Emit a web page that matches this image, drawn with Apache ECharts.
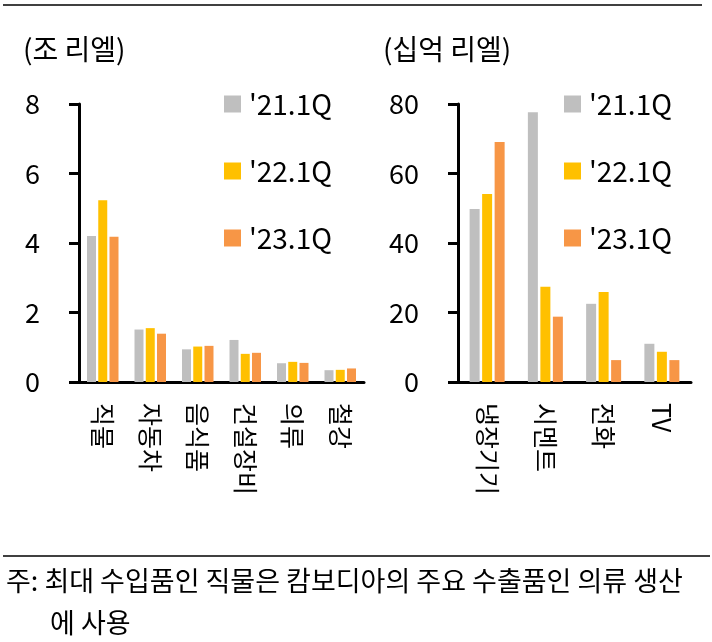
<!DOCTYPE html>
<html>
<head>
<meta charset="utf-8">
<script src="https://cdn.jsdelivr.net/npm/echarts@6/dist/echarts.min.js"></script>
<style>
  html, body { margin: 0; padding: 0; background: #fff; }
  #chart { width: 712px; height: 642px; }
</style>
</head>
<body>
<div id="chart"></div>
<script>
const seriesNames = ["'21.1Q", "'22.1Q", "'23.1Q"];
const colors = ['#BFBFBF', '#FFC000', '#F79646'];

// left panel: 조 리엘
const leftCategories = ['직물', '자동차', '음식품', '건설장비', '의류', '철강'];
const leftQ21 = [4.2, 1.51, 0.94, 1.21, 0.54, 0.34];
const leftQ22 = [5.23, 1.55, 1.02, 0.81, 0.58, 0.35];
const leftQ23 = [4.18, 1.39, 1.04, 0.84, 0.55, 0.39];
const leftTicks = [0, 2, 4, 6, 8];

// right panel: 십억 리엘
const rightCategories = ['냉장기기', '시멘트', '전화', 'TV'];
const rightQ21 = [49.8, 77.6, 22.5, 11.0];
const rightQ22 = [54.1, 27.4, 25.9, 8.7];
const rightQ23 = [69.1, 18.8, 6.3, 6.3];
const rightTicks = [0, 20, 40, 60, 80];

const FONT = '"Noto Sans CJK KR", "Noto Sans", sans-serif';

const chart = echarts.init(document.getElementById('chart'), null, { renderer: 'canvas' });

function xAxis (gridIndex, data) {
  return {
    type: 'category',
    gridIndex: gridIndex,
    data: data,
    axisLine: { lineStyle: { color: '#000', width: 3 } },
    axisTick: { length: 10, lineStyle: { color: '#000', width: 3 } },
    axisLabel: {
      interval: 0,
      rotate: -90,
      margin: 21,
      color: '#000',
      fontSize: 25,
      fontFamily: FONT
    }
  }
}

function yAxis (gridIndex, ticks) {
  return {
    type: 'value',
    gridIndex: gridIndex,
    min: ticks[0],
    max: ticks[ticks.length - 1],
    interval: ticks[1] - ticks[0],
    splitLine: { show: false },
    axisLine: { show: true, lineStyle: { color: '#000', width: 3 } },
    axisTick: { show: true, length: 10, lineStyle: { color: '#000', width: 3 } },
    axisLabel: {
      margin: 39,
      color: '#000',
      fontSize: 27,
      fontFamily: FONT
    }
  }
}

function legend (left) {
  return {
    data: seriesNames,
    orient: 'vertical',
    left: left,
    top: 89,
    padding: 0,
    itemWidth: 17,
    itemHeight: 17,
    itemGap: 37,
    icon: 'rect',
    selectedMode: false,
    textStyle: {
      color: '#000',
      fontSize: 28,
      lineHeight: 30,
      fontFamily: FONT,
      padding: [0, 0, 0, 3]
    }
  }
}

function bars (axisIndex, values, width) {
  return values.map((v, i) => ({
    name: seriesNames[i],
    type: 'bar',
    xAxisIndex: axisIndex,
    yAxisIndex: axisIndex,
    data: v,
    barWidth: width,
    barGap: '25%',
    itemStyle: { color: colors[i] }
  }))
}

function text (x, y, str, size) {
  return {
    type: 'text',
    x: x,
    y: y,
    style: {
      text: str,
      fill: '#000',
      font: size + 'px ' + FONT,
      verticalAlign: 'middle'
    }
  }
}

const option = {
  animation: false,
  backgroundColor: '#fff',
  color: colors,
  grid: [
    { left: 79, top: 104, width: 285, height: 278 },
    { left: 458, top: 104, width: 233, height: 278 }
  ],
  xAxis: [xAxis(0, leftCategories), xAxis(1, rightCategories)],
  yAxis: [yAxis(0, leftTicks), yAxis(1, rightTicks)],
  legend: [legend(224), legend(564)],
  series: [
    ...bars(0, [leftQ21, leftQ22, leftQ23], 9),
    ...bars(1, [rightQ21, rightQ22, rightQ23], 10)
  ],
  graphic: [
    { type: 'line', shape: { x1: 3, y1: 5, x2: 702, y2: 5 }, style: { stroke: '#000', lineWidth: 1.5 } },
    { type: 'line', shape: { x1: 3, y1: 556, x2: 710, y2: 556 }, style: { stroke: '#000', lineWidth: 1.5 } },
    text(23, 49, '(조 리엘)', 28),
    text(383, 49, '(십억 리엘)', 28),
    text(6, 581, '주: 최대 수입품인 직물은 캄보디아의 주요 수출품인 의류 생산', 27),
    text(50, 623, '에 사용', 27)
  ]
}

chart.setOption(option)
</script>
</body>
</html>
